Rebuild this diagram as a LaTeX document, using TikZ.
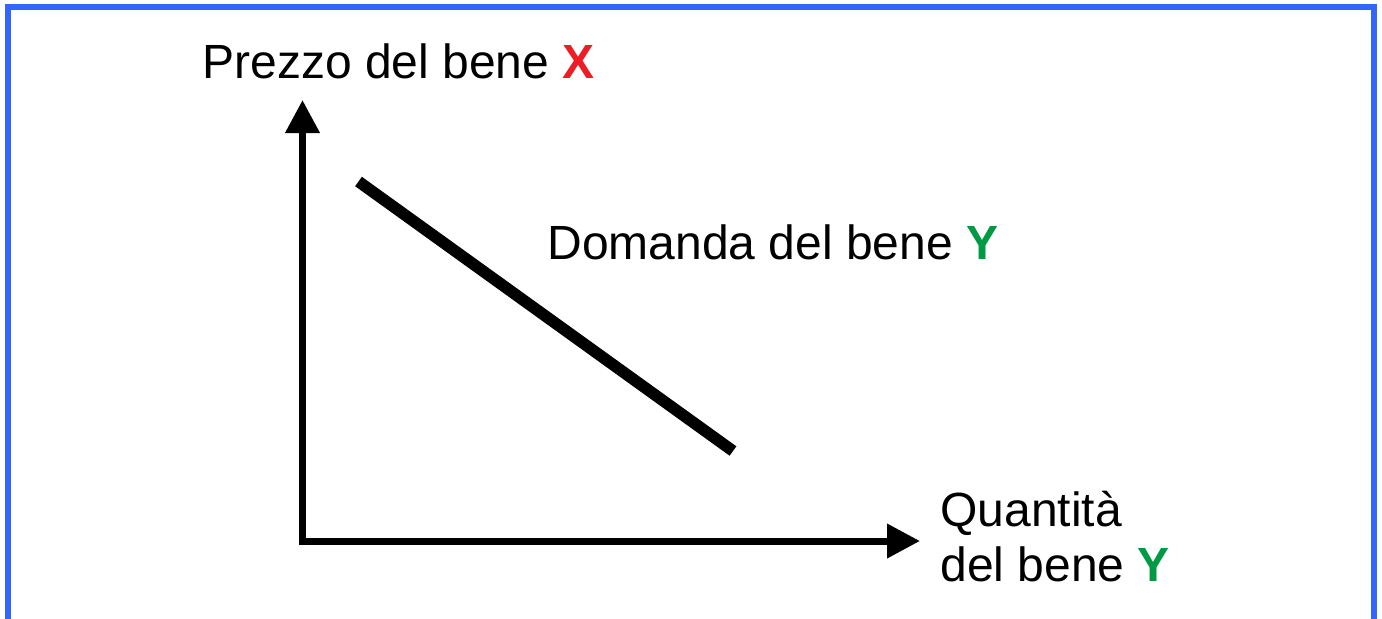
\documentclass[tikz,border=0pt]{standalone}
\usepackage{fontspec}
\setmainfont{Liberation Sans}
\usetikzlibrary{arrows.meta}

\definecolor{cornice}{HTML}{3366FF}
\definecolor{rossoX}{HTML}{EE1C25}
\definecolor{verdeY}{HTML}{009944}

\tikzset{
  asse/.style={black, line width=3.5pt, line join=miter,
    {Triangle[length=16.5pt,width=16.5pt]}-{Triangle[length=16.5pt,width=16.5pt]}},
  curva/.style={black, line width=5.8pt},
  etichetta/.style={anchor=base west, inner sep=0, align=left,
    font=\fontsize{24}{27.4}\selectfont}
}

\begin{document}
\begin{tikzpicture}[x=0.5pt, y=-0.5pt]
\useasboundingbox (0,0) rectangle (1382,618);
\draw[cornice, line width=3pt] (8,7) rectangle (1374,660);
\coordinate (O) at (302.5,541);
\coordinate (ytop) at (302.5,100);
\coordinate (xend) at (920,541);
\draw[asse] (ytop) -- (O) -- (xend);
% domanda
\coordinate (dA) at (358.5,181.5);
\coordinate (dB) at (733,451);
\draw[curva] (dA) -- (dB);
\node[etichetta] (prezzo) at (202,78.5) {Prezzo del bene \textcolor{rossoX}{\textbf{X}}};
\node[etichetta] (domanda) at (547,259.5) {Domanda del bene \textcolor{verdeY}{\textbf{Y}}};
\node[etichetta] (quantita) at (940,581.5) {Quantità\\del bene \textcolor{verdeY}{\textbf{Y}}};
\end{tikzpicture}
\end{document}
